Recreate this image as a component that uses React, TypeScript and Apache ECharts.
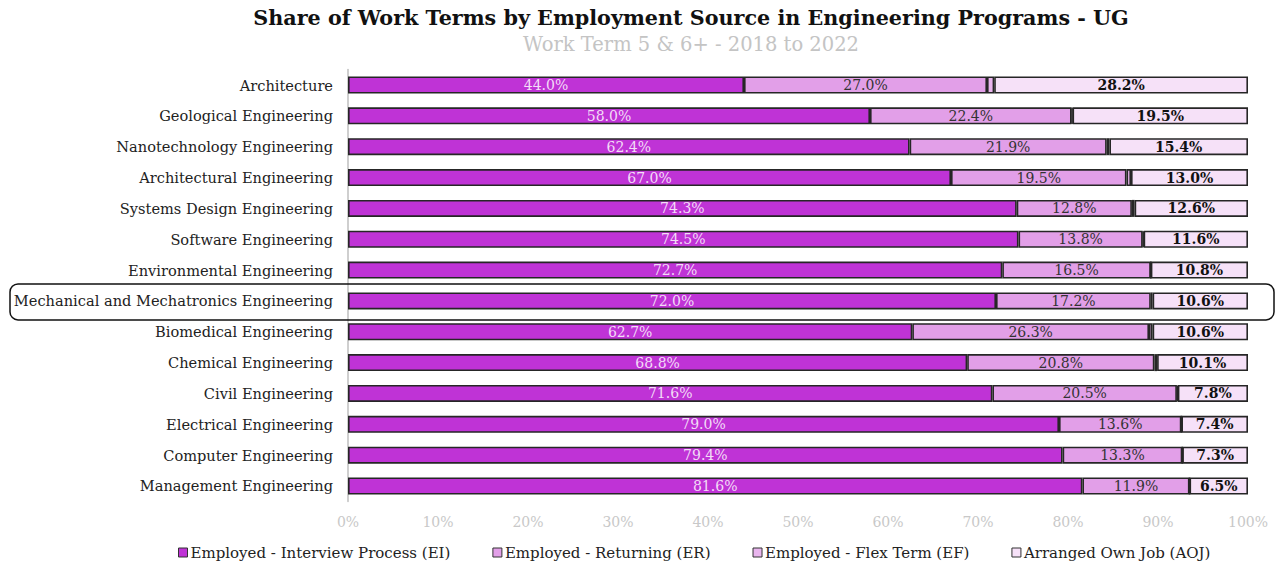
import React, { useEffect, useRef } from "react";
import * as echarts from "echarts";

const categories = [
  "Architecture",
  "Geological Engineering",
  "Nanotechnology Engineering",
  "Architectural Engineering",
  "Systems Design Engineering",
  "Software Engineering",
  "Environmental Engineering",
  "Mechanical and Mechatronics Engineering",
  "Biomedical Engineering",
  "Chemical Engineering",
  "Civil Engineering",
  "Electrical Engineering",
  "Computer Engineering",
  "Management Engineering",
];
const ei = [44.0, 58.0, 62.4, 67.0, 74.3, 74.5, 72.7, 72.0, 62.7, 68.8, 71.6, 79.0, 79.4, 81.6];
const er = [27.0, 22.4, 21.9, 19.5, 12.8, 13.8, 16.5, 17.2, 26.3, 20.8, 20.5, 13.6, 13.3, 11.9];
const ef = [0.8, 0.1, 0.3, 0.5, 0.3, 0.1, 0.0, 0.2, 0.4, 0.3, 0.1, 0.0, 0.0, 0.0];
const aoj = [28.2, 19.5, 15.4, 13.0, 12.6, 11.6, 10.8, 10.6, 10.6, 10.1, 7.8, 7.4, 7.3, 6.5];
const seriesNames = [
  "Employed - Interview Process (EI)",
  "Employed - Returning (ER)",
  "Employed - Flex Term (EF)",
  "Arranged Own Job (AOJ)",
];
const xTicks = [0, 10, 20, 30, 40, 50, 60, 70, 80, 90, 100];
const highlighted = "Mechanical and Mechatronics Engineering";
const titleText = "Share of Work Terms by Employment Source in Engineering Programs - UG";
const subtitleText = "Work Term 5 & 6+ - 2018 to 2022";

const FONT = "DejaVu Serif";

export default function App() {
  const ref = useRef<HTMLDivElement>(null);
  useEffect(() => {
    if (!ref.current) return;
    document.body.style.margin = "0";
    document.body.style.overflow = "hidden";
    const chart = echarts.init(ref.current, null, { renderer: "svg" });
    const colors = ["#BF33D6", "#E29FE8", "#E9B5EE", "#F6E1F8"];
    const labelStyles = [
      { color: "#F3DDF7", fontWeight: "normal" },
      { color: "#333333", fontWeight: "normal" },
      null,
      { color: "#111111", fontWeight: "bold" },
    ];
    const datasets = [ei, er, ef, aoj];
    const series = datasets.map((d, i) => ({
      name: seriesNames[i],
      type: "bar",
      stack: "total",
      barWidth: 17,
      data: d,
      itemStyle: { color: colors[i], borderColor: "#262626", borderWidth: 1.6 },
      label: labelStyles[i]
        ? {
            show: true,
            position: "inside",
            formatter: (p: any) => p.value.toFixed(1) + "%",
            fontFamily: FONT,
            fontSize: 14,
            color: labelStyles[i]!.color,
            fontWeight: labelStyles[i]!.fontWeight,
          }
        : { show: false },
    }));
    chart.setOption({
      animation: false,
      textStyle: { fontFamily: FONT },
      legend: {
        left: 178,
        top: 545,
        padding: 0,
        itemWidth: 9,
        itemHeight: 9,
        itemGap: 42,
        icon: "rect",
        textStyle: { fontFamily: FONT, fontSize: 15, color: "#222222", padding: [0, 0, 0, -2] },
        data: seriesNames.map((n, i) => ({
          name: n,
          itemStyle: { color: colors[i], borderColor: "#333333", borderWidth: 1 },
        })),
      },
      grid: { left: 348, right: 34, top: 69.6, bottom: 65.6, containLabel: false },
      xAxis: {
        type: "value",
        min: 0,
        max: 100,
        interval: 10,
        axisLabel: {
          formatter: (v: number) => (xTicks.includes(v) ? v + "%" : ""),
          color: "#C8C8C8",
          fontFamily: FONT,
          fontSize: 14,
          margin: 14,
        },
        splitLine: { show: false },
        axisLine: { show: false },
        axisTick: { show: false },
      },
      yAxis: {
        type: "category",
        data: categories,
        inverse: true,
        axisLine: { show: true, lineStyle: { color: "#BFBFBF", width: 1.5 } },
        axisTick: { show: false },
        axisLabel: {
          color: "#222222",
          fontFamily: FONT,
          fontSize: 14.6,
          margin: 15,
        },
      },
      series,
    });
    const idx = categories.indexOf(highlighted);
    const yc = chart.convertToPixel({ yAxisIndex: 0 }, categories[idx]) as number;
    chart.setOption({
      graphic: [
        {
          type: "text",
          x: 691,
          y: 18,
          style: {
            text: titleText,
            align: "center",
            verticalAlign: "middle",
            textAlign: "center",
            textVerticalAlign: "middle",
            fontFamily: FONT,
            fontSize: 20.7,
            fontWeight: "bold",
            fill: "#111111",
          },
        },
        {
          type: "text",
          x: 691,
          y: 44,
          style: {
            text: subtitleText,
            align: "center",
            verticalAlign: "middle",
            textAlign: "center",
            textVerticalAlign: "middle",
            fontFamily: FONT,
            fontSize: 19.5,
            fill: "#C4C4C4",
          },
        },
        {
          type: "rect",
          shape: { x: 10, y: yc - 17, width: 1264, height: 36, r: 8 },
          style: { fill: "none", stroke: "#111111", lineWidth: 1.5 },
          z: 10,
          silent: true,
        },
      ],
    });
    return () => chart.dispose();
  }, []);
  return <div ref={ref} style={{ width: 1282, height: 567 }} />;
}
